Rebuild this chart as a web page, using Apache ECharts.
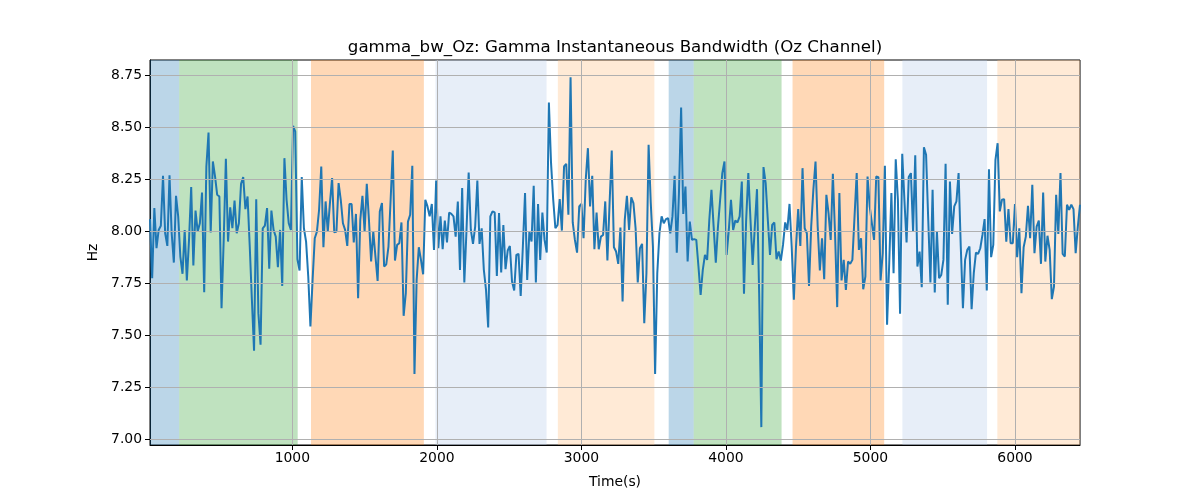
<!DOCTYPE html>
<html><head><meta charset="utf-8">
<script src="https://cdn.jsdelivr.net/npm/echarts@6/dist/echarts.min.js"></script>
<style>html,body{margin:0;padding:0;background:#fff}#c{width:1200px;height:500px}</style>
</head><body><div id="c"></div>
<script>
// sampling of the time axis (seconds)
const T0 = 15, DT = 15;
// gamma instantaneous bandwidth (Hz), Oz channel
const bandwidth = [
8.058, 7.774, 8.111, 7.918, 8.006, 8.026, 8.266, 7.990, 7.929, 8.269,
7.990, 7.849, 8.170, 8.071, 7.878, 7.795, 8.006, 7.763, 7.958, 8.212,
7.835, 8.099, 7.998, 8.038, 8.186, 7.707, 8.311, 8.474, 7.994, 8.335,
8.263, 8.175, 8.167, 7.630, 7.958, 8.348, 7.950, 8.115, 8.014, 8.147,
7.990, 8.038, 8.228,
8.260, 8.106, 8.167, 7.93, 7.67, 7.425, 8.154, 7.606, 7.454, 8.014,
8.027, 8.111, 7.819, 8.099, 8.006, 7.974, 7.827, 8.006, 7.737, 8.351,
8.151, 8.038, 8.006, 8.506, 8.479, 7.865, 7.811, 8.260, 8.014, 7.950,
7.782, 7.542, 7.766, 7.966, 7.998, 8.103, 8.311, 7.923, 8.143, 7.998,
8.135, 8.255,
7.994, 7.998, 8.231, 8.151, 8.038, 8.006, 7.929, 8.131, 8.131, 7.946,
8.083, 7.678, 8.054, 8.170, 7.998, 8.228, 8.054, 7.854, 7.998, 7.878,
7.761, 8.095, 8.135, 7.830, 7.841, 7.926, 8.151, 8.388, 7.859, 7.934,
7.942, 8.042, 7.593, 7.702, 8.046, 8.079, 8.314, 7.314, 7.766, 7.923,
7.862, 7.793, 8.151,
8.119, 8.071, 8.131, 7.910, 8.244, 7.918, 8.071, 7.913, 8.051, 7.946,
8.090, 8.083, 8.071, 7.974, 8.143, 7.814, 8.207, 7.753, 8.006, 8.282,
8.006, 7.939, 8.022, 8.244, 7.939, 8.014, 7.814, 7.718, 7.537, 8.071,
8.095, 8.090, 7.785, 8.087, 7.801, 8.030, 7.817, 7.907, 7.929, 7.758,
7.715, 7.886,
7.891, 7.689, 7.926, 8.183, 7.766, 7.998, 7.950, 8.218, 7.753, 8.131,
7.862, 8.090, 7.958, 7.897, 8.619, 8.327, 8.151, 8.014, 8.030, 8.154,
8.003, 8.311, 8.324, 8.079, 8.740, 8.042, 7.958, 7.897, 8.119, 8.131,
7.966, 8.247, 8.399, 8.119, 8.266, 7.913, 8.090, 7.913, 7.974, 7.982,
8.143, 7.859,
8.135, 8.388, 7.923, 7.902, 7.843, 8.018, 7.662, 8.054, 8.170, 8.006,
8.163, 8.135, 8.014, 7.753, 7.918, 7.939, 7.558, 7.798, 8.415, 8.135,
7.926, 7.314, 7.798, 7.990, 8.071, 8.038, 8.058, 8.063, 7.990, 8.071,
8.266, 7.897, 8.183, 8.595, 8.083, 8.215, 7.854, 8.046, 7.958, 7.962,
7.958, 7.830, 7.694,
7.814, 7.886, 7.862, 8.054, 8.199, 8.022, 7.849, 8.022, 8.151, 8.279,
8.335, 7.886, 8.006, 8.151, 8.006, 8.051, 8.042, 8.071, 8.239, 7.699,
8.054, 8.279, 8.054, 7.838, 8.022, 8.202, 7.702, 7.058, 8.308, 8.231,
8.054, 7.886, 8.030, 8.042, 7.865, 7.902, 7.859, 7.934, 8.042, 8.006,
8.131, 7.926, 7.670,
7.926, 8.106, 7.929, 8.303, 8.014, 7.990, 7.737, 8.022, 8.199, 8.335,
8.022, 7.811, 7.966, 7.769, 8.175, 8.087, 7.958, 8.276, 7.990, 7.635,
8.183, 7.763, 7.862, 7.718, 7.854, 7.843, 7.862, 8.071, 8.279, 7.910,
7.966, 7.721, 7.782, 8.263, 8.119, 8.038, 7.958, 8.263, 8.260, 7.763,
7.894, 8.314, 7.550,
7.846, 8.183, 7.798, 8.346, 8.151, 7.603, 8.372, 8.151, 7.946, 8.260,
8.279, 7.998, 8.365, 7.830, 7.902, 7.731, 8.404, 8.367, 8.054, 7.753,
8.199, 7.705, 7.998, 7.774, 7.790, 7.862, 8.324, 7.646, 8.239, 7.987,
8.119, 8.143, 8.279, 7.926, 7.630, 7.862, 7.910, 7.926, 7.625, 7.798,
7.897, 7.891,
7.918, 7.982, 8.058, 7.715, 8.298, 7.875, 7.934, 8.343, 8.423, 8.095,
8.151, 8.154, 7.950, 8.106, 7.942, 7.942, 8.131, 7.875, 8.014, 7.702,
7.923, 7.974, 8.122, 7.966, 8.223, 7.894, 8.022, 8.051, 7.843, 8.186,
7.854, 7.978, 7.910, 7.673, 7.734, 8.175, 7.987, 8.279, 7.891, 7.878,
8.127, 8.103, 8.127, 8.106, 7.894, 8.022, 8.127
];
// shaded phases (seconds) and their kind
const spanStart = [15, 217, 1129, 1990, 2837, 3604, 3777, 4461, 5221, 5878];
const spanEnd   = [217, 1037, 1910, 2759, 3505, 3777, 4385, 5095, 5807, 6450];
const spanKind  = [0, 1, 2, 3, 4, 0, 1, 2, 3, 4];
// ticks
const xTicks = [1000, 2000, 3000, 4000, 5000, 6000];
const yTicks = [7.00, 7.25, 7.50, 7.75, 8.00, 8.25, 8.50, 8.75];
const X_MIN = 15, X_MAX = 6450, Y_MIN = 6.972, Y_MAX = 8.823;

const palette = ['rgba(31,119,180,0.3)', 'rgba(44,160,44,0.3)', 'rgba(255,127,14,0.3)',
                 'rgba(174,199,232,0.3)', 'rgba(255,187,120,0.3)'];
const FONT = 'DejaVu Sans';

const chart = echarts.init(document.getElementById('c'), null, {renderer: 'canvas'});
const lineData = bandwidth.map((v, i) => [T0 + DT * i, v]);

chart.setOption({
  animation: false,
  backgroundColor: '#fff',
  textStyle: {fontFamily: FONT},
  title: {
    text: 'gamma_bw_Oz: Gamma Instantaneous Bandwidth (Oz Channel)',
    left: 610, top: 34, textAlign: 'center',
    textStyle: {fontFamily: FONT, fontSize: 16.67, fontWeight: 'normal', color: '#000'}
  },
  grid: {left: 150, right: 120, top: 60, bottom: 55, show: true, borderColor: '#000', borderWidth: 1, backgroundColor: 'transparent'},
  xAxis: {
    type: 'value', min: X_MIN, max: X_MAX,
    name: 'Time(s)', nameLocation: 'middle', nameGap: 30,
    nameTextStyle: {fontFamily: FONT, fontSize: 13.9, color: '#000'},
    axisLine: {show: true, onZero: false, lineStyle: {color: '#000', width: 1}},
    axisTick: {show: true, length: 5, inside: false, customValues: xTicks, lineStyle: {color: '#000'}},
    axisLabel: {customValues: xTicks, margin: 6, fontFamily: FONT, fontSize: 13.9, color: '#000',
                formatter: v => String(v)},
    splitLine: {show: false}
  },
  yAxis: {
    type: 'value', min: Y_MIN, max: Y_MAX,
    name: 'Hz', nameLocation: 'middle', nameGap: 39,
    nameTextStyle: {fontFamily: FONT, fontSize: 13.9, color: '#000'},
    axisLine: {show: true, onZero: false, lineStyle: {color: '#000', width: 1}},
    axisTick: {show: true, length: 5, inside: false, customValues: yTicks, lineStyle: {color: '#000'}},
    axisLabel: {customValues: yTicks, margin: 8, fontFamily: FONT, fontSize: 13.9, color: '#000',
                formatter: v => v.toFixed(2)},
    splitLine: {show: false}
  },
  series: [
    {
      type: 'line', data: [], z: 1, silent: true,
      markArea: {
        silent: true,
        data: spanStart.map((s, k) => [
          {xAxis: s, itemStyle: {color: palette[spanKind[k]]}},
          {xAxis: spanEnd[k]}
        ])
      }
    },
    {
      type: 'line', data: [], z: 2, silent: true,
      markLine: {
        silent: true, symbol: ['none', 'none'], label: {show: false},
        lineStyle: {color: '#b0b0b0', width: 1, type: 'solid'},
        data: xTicks.map(v => ({xAxis: v})).concat(yTicks.map(v => ({yAxis: v})))
      }
    },
    {
      type: 'line', data: lineData, z: 3, showSymbol: false, symbol: 'none',
      lineStyle: {color: '#1f77b4', width: 2}, itemStyle: {color: '#1f77b4'}
    }
  ]
});
</script>
</body></html>
